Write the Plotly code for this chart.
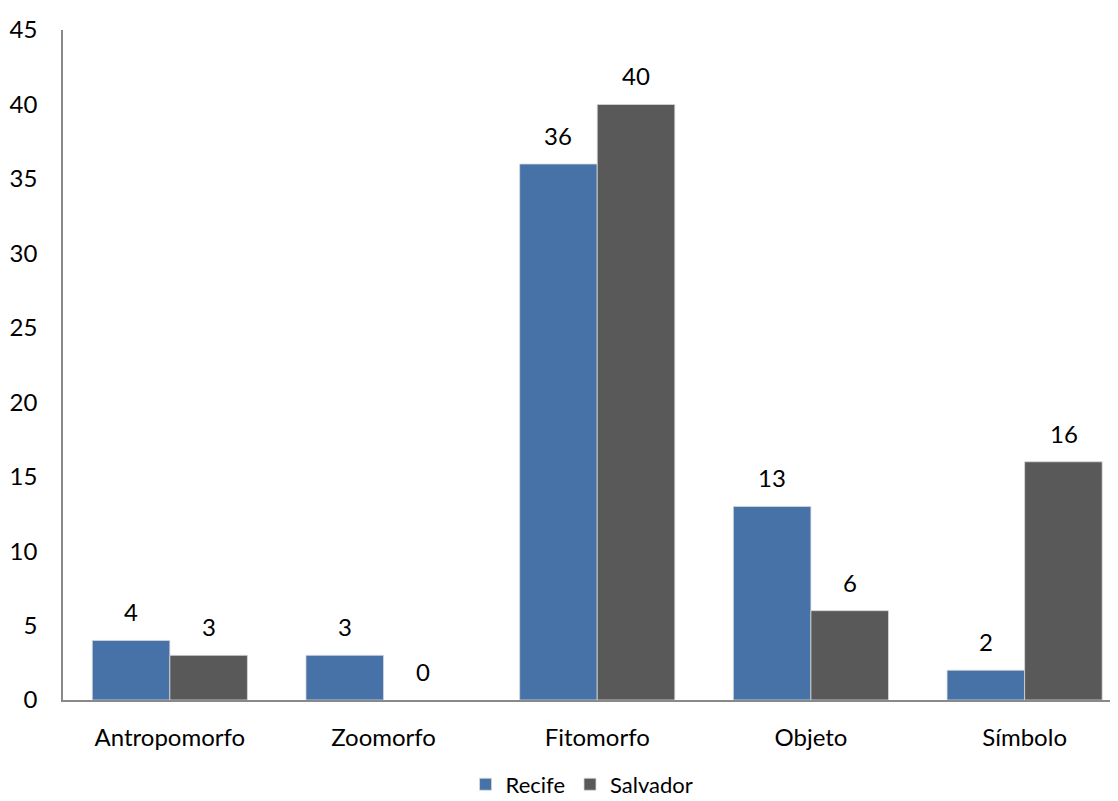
import plotly.graph_objects as go

categories = ["Antropomorfo", "Zoomorfo", "Fitomorfo", "Objeto", "Símbolo"]
recife = [4, 3, 36, 13, 2]
salvador = [3, 0, 40, 6, 16]
y_ticks = [0, 5, 10, 15, 20, 25, 30, 35, 40, 45]

BLUE = "#4672A7"
GRAY = "#595959"
FONT = "Lato"
FS = 24

fig = go.Figure()
for name, vals, col in (("Recife", recife, BLUE), ("Salvador", salvador, GRAY)):
    fig.add_trace(go.Bar(name=name, x=categories, y=vals,
                         marker=dict(color=col, line=dict(color="#D9D9D9",
                                                          width=[0.8 if v else 0 for v in vals]))))

for vals, shift in ((recife, -39), (salvador, 39)):
    for c, v in zip(categories, vals):
        fig.add_annotation(x=c, y=v, xref="x", yref="y", text=str(v), showarrow=False,
                           xshift=shift, yshift=12, yanchor="bottom",
                           font=dict(family=FONT, size=FS, color="#000000"))

fig.update_layout(
    width=1110, height=793,
    margin=dict(l=55, r=0, t=22, b=101, autoexpand=False),
    paper_bgcolor="white", plot_bgcolor="white",
    barmode="group", bargap=0.274, bargroupgap=0,
    font=dict(family=FONT, size=FS, color="#000000"),
    showlegend=True,
    legend=dict(orientation="h", x=0.492, xanchor="center", y=-0.126, yanchor="middle",
                font=dict(family=FONT, size=22), itemwidth=30, traceorder="normal"),
)
fig.update_xaxes(range=[-0.5, 4.437], showline=True, linecolor="#898989", linewidth=1.5,
                 ticks="", showgrid=False, tickfont=dict(family=FONT, size=FS), ticklabelstandoff=15,
                 automargin=False)
fig.update_yaxes(range=[0, 45], tickvals=y_ticks, showline=True, linecolor="#898989", linewidth=1.5,
                 ticks="", showgrid=False, zeroline=False, tickfont=dict(family=FONT, size=FS),
                 ticklabelstandoff=19, automargin=False)

fig.write_html("out.html")
